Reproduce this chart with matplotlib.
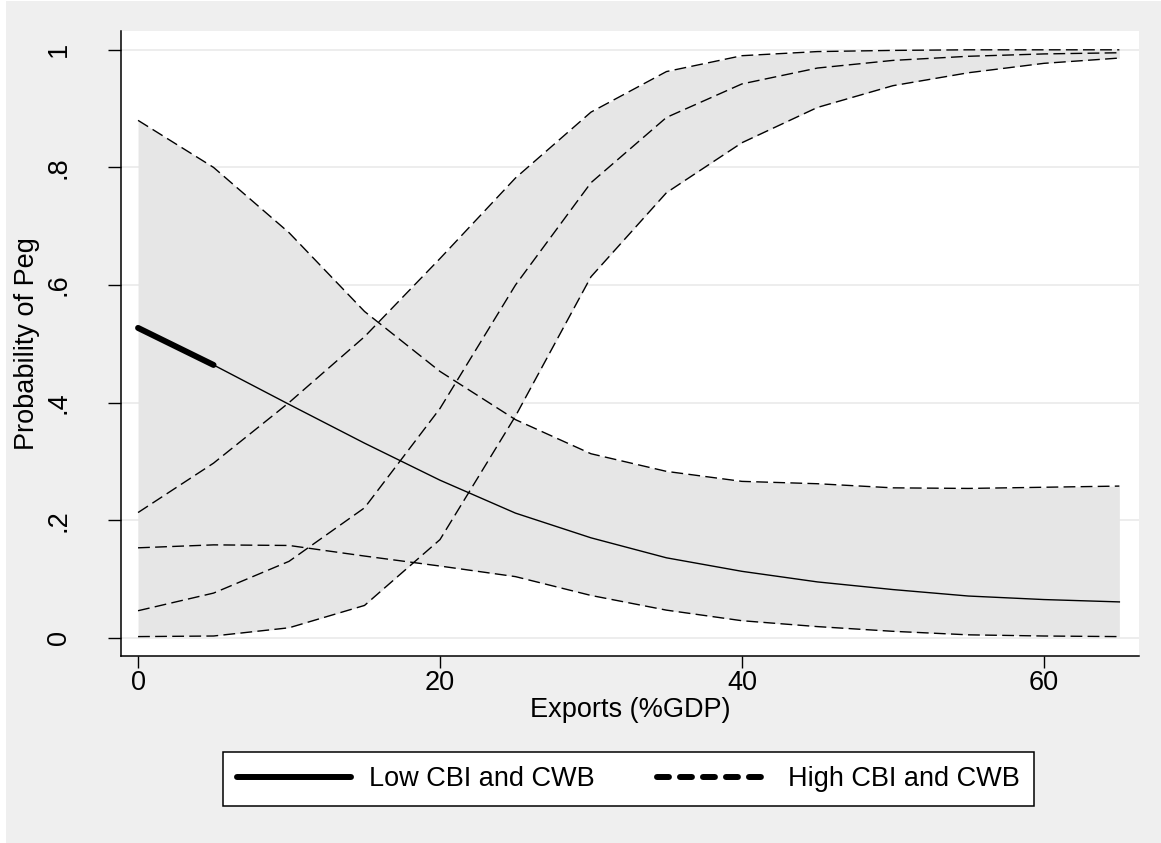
import matplotlib
matplotlib.use('Agg')
import matplotlib.pyplot as plt
from matplotlib.lines import Line2D
from matplotlib.patches import Rectangle

##========== Data ==========##
exports = [0, 5, 10, 15, 20, 25, 30, 35, 40, 45, 50, 55, 60, 65]

low_mean = [0.527, 0.464, 0.397, 0.331, 0.268, 0.212, 0.170, 0.136, 0.113, 0.095, 0.082, 0.071, 0.065, 0.061]
low_lo = [0.153, 0.158, 0.157, 0.139, 0.122, 0.104, 0.072, 0.047, 0.029, 0.019, 0.011, 0.005, 0.003, 0.002]
low_hi = [0.880, 0.800, 0.689, 0.555, 0.453, 0.371, 0.313, 0.283, 0.266, 0.262, 0.255, 0.254, 0.256, 0.258]

high_mean = [0.046, 0.076, 0.130, 0.221, 0.390, 0.600, 0.774, 0.885, 0.942, 0.969, 0.982, 0.989, 0.993, 0.995]
high_lo = [0.002, 0.003, 0.017, 0.055, 0.167, 0.377, 0.614, 0.757, 0.842, 0.902, 0.939, 0.961, 0.977, 0.986]
high_hi = [0.213, 0.297, 0.400, 0.512, 0.645, 0.782, 0.894, 0.963, 0.990, 0.997, 0.999, 1.000, 1.000, 1.000]

# observed range for the low group (thick part of the line)
low_obs_n = 2

y_ticks = [0, 0.2, 0.4, 0.6, 0.8, 1.0]
y_tick_labels = ['0', '.2', '.4', '.6', '.8', '1']
x_ticks = [0, 20, 40, 60]

##========== Style ==========##
plt.rcParams['font.family'] = ['Liberation Sans', 'DejaVu Sans']
FS = 19.5
BG = '#efefef'
BAND = '#e6e6e6'
GRID = '#eaeaea'
DASH = (8.5, 3.8)

fig = plt.figure(figsize=(11.61, 8.43), dpi=100, facecolor='white')
fig.patches.append(Rectangle((6 / 1161, 0), 1 - 6 / 1161, 1 - 1 / 843,
                             transform=fig.transFigure, facecolor=BG,
                             edgecolor='none', zorder=-10))

ax = fig.add_axes([121 / 1161, 1 - 656 / 843, (1139 - 121) / 1161, (656 - 31) / 843])
ax.set_facecolor('white')

# grid
for yv in y_ticks:
    ax.axhline(yv, color=GRID, lw=1.2, zorder=0)

# bands
ax.fill_between(exports, low_lo, low_hi, color=BAND, lw=0, zorder=1)
ax.fill_between(exports, high_lo, high_hi, color=BAND, lw=0, zorder=1)

# band edges
for ys in (low_lo, low_hi, high_lo, high_hi, high_mean):
    ax.plot(exports, ys, color='black', lw=1.0, dashes=DASH, zorder=3)

# low group mean
ax.plot(exports, low_mean, color='black', lw=1.0, zorder=3)
ax.plot(exports[:low_obs_n], low_mean[:low_obs_n], color='black', lw=4.3,
        solid_capstyle='round', zorder=4)

ax.set_xlim(-1.13, 66.3)
ax.set_ylim(-0.031, 1.032)

ax.set_xticks(x_ticks)
ax.set_yticks(y_ticks)
ax.set_yticklabels(y_tick_labels)
ax.tick_params(axis='x', length=8.6, width=1.0, pad=1.5, labelsize=FS)
ax.tick_params(axis='y', length=9.4, width=1.0, pad=26, labelsize=FS)
plt.setp(ax.get_yticklabels(), rotation=90, va='center')

for s in ('top', 'right'):
    ax.spines[s].set_visible(False)
for s in ('left', 'bottom'):
    ax.spines[s].set_linewidth(1.1)

ax.set_xlabel('Exports (%GDP)', fontsize=FS, labelpad=1)
ax.set_ylabel('Probability of Peg', fontsize=FS, labelpad=4)

# legend
handles = [
    Line2D([0], [0], color='black', lw=4.3, solid_capstyle='round'),
    Line2D([0], [0], color='black', lw=4.3, dashes=(2, 1.85), dash_capstyle='round'),
]
leg = fig.legend(handles, ['Low CBI and CWB', 'High CBI and CWB'], ncol=2,
                 loc='center', bbox_to_anchor=(628.5 / 1161, 1 - 779 / 843),
                 fontsize=FS, frameon=True, fancybox=False, framealpha=1,
                 edgecolor='black', handlelength=4.2, handletextpad=0.67,
                 columnspacing=2.3, borderpad=0.5)
leg.get_frame().set_linewidth(1.1)

fig.savefig('out.png', dpi=100, facecolor='white')
